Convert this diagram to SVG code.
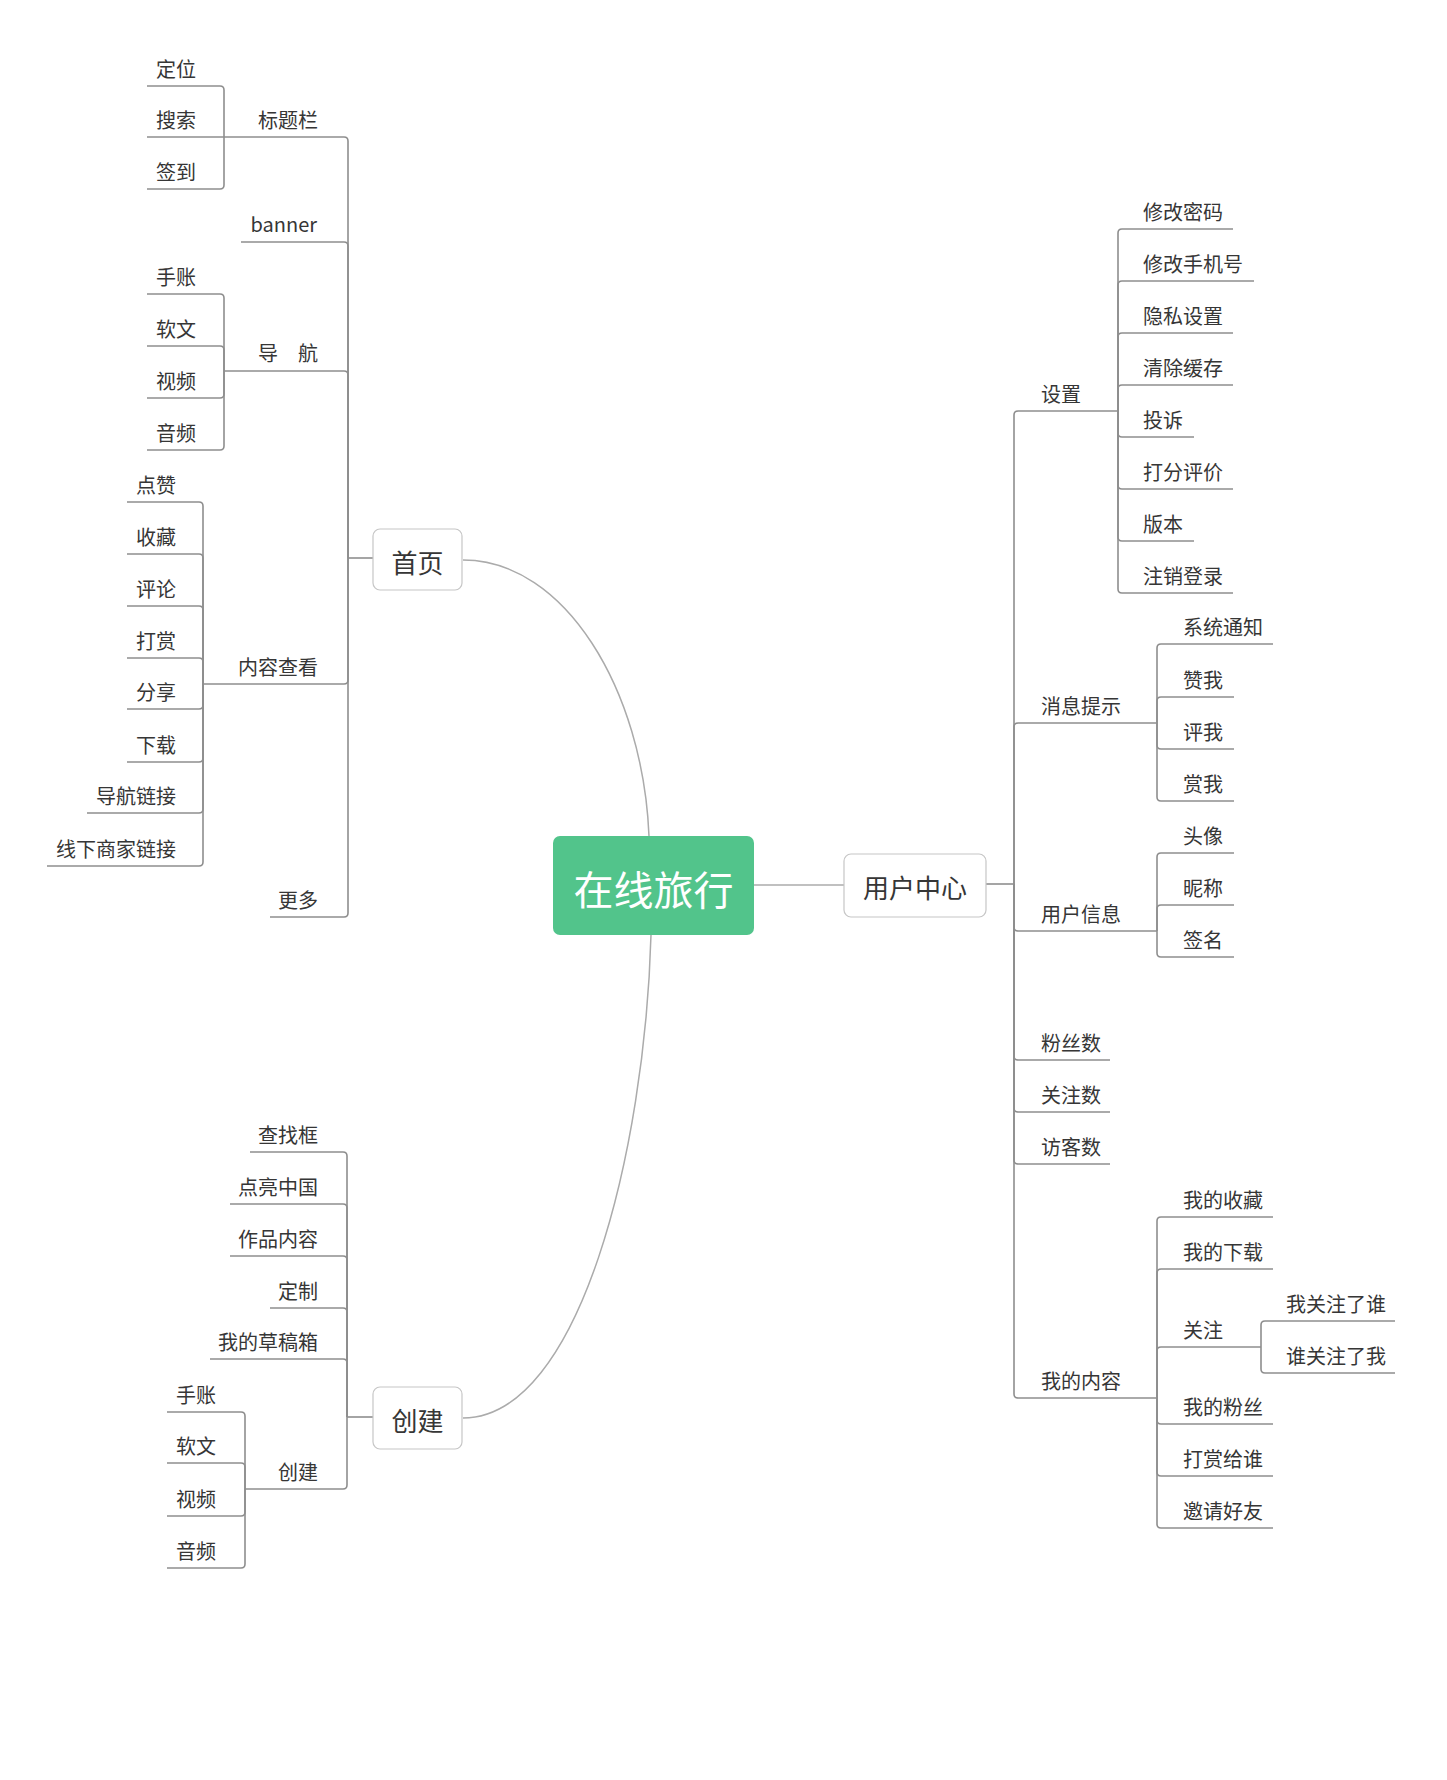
<svg xmlns="http://www.w3.org/2000/svg" width="1447" height="1780" viewBox="0 0 1447 1780">
<style>
text{font-family:"Noto Sans CJK SC","Noto Sans",sans-serif;fill:#363636;}
.t{font-size:20px;}
.l{text-anchor:end;}
.m{font-size:26px;text-anchor:middle;}
.root{font-size:40px;fill:#fff;text-anchor:middle;}
.b{fill:none;stroke:#8e8e8e;stroke-width:1.6;}
.c{fill:none;stroke:#ababab;stroke-width:1.5;}
.box{fill:#fff;stroke:#c6c6c6;stroke-width:1.2;}
</style>
<rect width="1447" height="1780" fill="#fff"/>
<g id="connectors">
<path class="c" d="M463 560 C565 560 643 690 649 836"/>
<path class="c" d="M651 935 C645 1150 580 1418 463 1418"/>
<path class="c" d="M754 885 H844"/>
<path class="b" d="M348 558 H373"/>
<path class="b" d="M348 558 V141 Q348 137 344 137 H224"/>
<path class="b" d="M348 558 V246 Q348 242 344 242 H241"/>
<path class="b" d="M348 558 V375 Q348 371 344 371 H224"/>
<path class="b" d="M348 558 V680 Q348 684 344 684 H203"/>
<path class="b" d="M348 558 V913 Q348 917 344 917 H270"/>
<path class="b" d="M224 137 V90 Q224 86 220 86 H147"/>
<path class="b" d="M224 137 H147"/>
<path class="b" d="M224 137 V185 Q224 189 220 189 H147"/>
<path class="b" d="M224 371 V298 Q224 294 220 294 H147"/>
<path class="b" d="M224 371 V350 Q224 346 220 346 H147"/>
<path class="b" d="M224 371 V394 Q224 398 220 398 H147"/>
<path class="b" d="M224 371 V446 Q224 450 220 450 H147"/>
<path class="b" d="M203 684 V506 Q203 502 199 502 H127"/>
<path class="b" d="M203 684 V558 Q203 554 199 554 H127"/>
<path class="b" d="M203 684 V610 Q203 606 199 606 H127"/>
<path class="b" d="M203 684 V662 Q203 658 199 658 H127"/>
<path class="b" d="M203 684 V705 Q203 709 199 709 H127"/>
<path class="b" d="M203 684 V758 Q203 762 199 762 H127"/>
<path class="b" d="M203 684 V809 Q203 813 199 813 H87"/>
<path class="b" d="M203 684 V862 Q203 866 199 866 H47"/>
<path class="b" d="M347 1417 H373"/>
<path class="b" d="M347 1417 V1156 Q347 1152 343 1152 H250"/>
<path class="b" d="M347 1417 V1208 Q347 1204 343 1204 H230"/>
<path class="b" d="M347 1417 V1260 Q347 1256 343 1256 H230"/>
<path class="b" d="M347 1417 V1312 Q347 1308 343 1308 H270"/>
<path class="b" d="M347 1417 V1363 Q347 1359 343 1359 H210"/>
<path class="b" d="M347 1417 V1485 Q347 1489 343 1489 H245"/>
<path class="b" d="M245 1489 V1416 Q245 1412 241 1412 H167"/>
<path class="b" d="M245 1489 V1467 Q245 1463 241 1463 H167"/>
<path class="b" d="M245 1489 V1512 Q245 1516 241 1516 H167"/>
<path class="b" d="M245 1489 V1564 Q245 1568 241 1568 H167"/>
<path class="b" d="M986 884 H1014"/>
<path class="b" d="M1014 884 V415 Q1014 411 1018 411 H1118"/>
<path class="b" d="M1014 884 V727 Q1014 723 1018 723 H1157"/>
<path class="b" d="M1014 884 V927 Q1014 931 1018 931 H1157"/>
<path class="b" d="M1014 884 V1056 Q1014 1060 1018 1060 H1110"/>
<path class="b" d="M1014 884 V1108 Q1014 1112 1018 1112 H1110"/>
<path class="b" d="M1014 884 V1160 Q1014 1164 1018 1164 H1110"/>
<path class="b" d="M1014 884 V1394 Q1014 1398 1018 1398 H1157"/>
<path class="b" d="M1118 411 V233 Q1118 229 1122 229 H1233"/>
<path class="b" d="M1118 411 V285 Q1118 281 1122 281 H1254"/>
<path class="b" d="M1118 411 V337 Q1118 333 1122 333 H1233"/>
<path class="b" d="M1118 411 V389 Q1118 385 1122 385 H1233"/>
<path class="b" d="M1118 411 V433 Q1118 437 1122 437 H1194"/>
<path class="b" d="M1118 411 V485 Q1118 489 1122 489 H1233"/>
<path class="b" d="M1118 411 V537 Q1118 541 1122 541 H1194"/>
<path class="b" d="M1118 411 V589 Q1118 593 1122 593 H1233"/>
<path class="b" d="M1157 723 V648 Q1157 644 1161 644 H1273"/>
<path class="b" d="M1157 723 V701 Q1157 697 1161 697 H1234"/>
<path class="b" d="M1157 723 V745 Q1157 749 1161 749 H1234"/>
<path class="b" d="M1157 723 V797 Q1157 801 1161 801 H1234"/>
<path class="b" d="M1157 931 V857 Q1157 853 1161 853 H1234"/>
<path class="b" d="M1157 931 V909 Q1157 905 1161 905 H1234"/>
<path class="b" d="M1157 931 V953 Q1157 957 1161 957 H1234"/>
<path class="b" d="M1157 1398 V1221 Q1157 1217 1161 1217 H1273"/>
<path class="b" d="M1157 1398 V1273 Q1157 1269 1161 1269 H1273"/>
<path class="b" d="M1157 1398 V1351 Q1157 1347 1161 1347 H1261"/>
<path class="b" d="M1157 1398 V1420 Q1157 1424 1161 1424 H1273"/>
<path class="b" d="M1157 1398 V1472 Q1157 1476 1161 1476 H1273"/>
<path class="b" d="M1157 1398 V1524 Q1157 1528 1161 1528 H1273"/>
<path class="b" d="M1261 1347 V1325 Q1261 1321 1265 1321 H1395"/>
<path class="b" d="M1261 1347 V1369 Q1261 1373 1265 1373 H1395"/>
</g>
<g id="root"><rect x="553" y="836" width="201" height="99" rx="7" fill="#52c48b"/><text class="root" x="653.5" y="905">在线旅行</text></g>
<g id="n-shouye"><rect class="box" x="373" y="529" width="89" height="61" rx="7"/><text class="m" x="417.5" y="573">首页</text></g>
<g id="n-chuangjian"><rect class="box" x="373" y="1387" width="89" height="62" rx="7"/><text class="m" x="417.5" y="1431">创建</text></g>
<g id="n-yonghu"><rect class="box" x="844" y="854" width="142" height="63" rx="7"/><text class="m" x="915" y="898">用户中心</text></g>
<g id="n-left-texts" transform="translate(0,1)">
<g id="n-biaoti"><text class="t l" x="318" y="127">标题栏</text></g>
<g id="n-dingwei"><text class="t l" x="196" y="76">定位</text></g>
<g id="n-sousuo"><text class="t l" x="196" y="127">搜索</text></g>
<g id="n-qiandao"><text class="t l" x="196" y="179">签到</text></g>
<g id="n-banner"><text class="t l" x="317" y="231">banner</text></g>
<g id="n-daohang"><text class="t l" x="318" y="360">导　航</text></g>
<g id="n-shouzhang"><text class="t l" x="196" y="284">手账</text></g>
<g id="n-ruanwen"><text class="t l" x="196" y="336">软文</text></g>
<g id="n-shipin"><text class="t l" x="196" y="388">视频</text></g>
<g id="n-yinpin"><text class="t l" x="196" y="440">音频</text></g>
<g id="n-neirong"><text class="t l" x="318" y="674">内容查看</text></g>
<g id="n-dianzan"><text class="t l" x="176" y="492">点赞</text></g>
<g id="n-shoucang"><text class="t l" x="176" y="544">收藏</text></g>
<g id="n-pinglun"><text class="t l" x="176" y="596">评论</text></g>
<g id="n-dashang"><text class="t l" x="176" y="648">打赏</text></g>
<g id="n-fenxiang"><text class="t l" x="176" y="699">分享</text></g>
<g id="n-xiazai"><text class="t l" x="176" y="752">下载</text></g>
<g id="n-dhlj"><text class="t l" x="176" y="803">导航链接</text></g>
<g id="n-xxsj"><text class="t l" x="176" y="856">线下商家链接</text></g>
<g id="n-gengduo"><text class="t l" x="318" y="907">更多</text></g>
<g id="n-chazhao"><text class="t l" x="318" y="1142">查找框</text></g>
<g id="n-dianliang"><text class="t l" x="318" y="1194">点亮中国</text></g>
<g id="n-zuopin"><text class="t l" x="318" y="1246">作品内容</text></g>
<g id="n-dingzhi"><text class="t l" x="318" y="1298">定制</text></g>
<g id="n-caogao"><text class="t l" x="318" y="1349">我的草稿箱</text></g>
<g id="n-chuangjian2"><text class="t l" x="318" y="1479">创建</text></g>
<g id="n-shouzhang2"><text class="t l" x="216" y="1402">手账</text></g>
<g id="n-ruanwen2"><text class="t l" x="216" y="1453">软文</text></g>
<g id="n-shipin2"><text class="t l" x="216" y="1506">视频</text></g>
<g id="n-yinpin2"><text class="t l" x="216" y="1558">音频</text></g>
</g>
<g id="n-right-texts" transform="translate(0,1)">
<g id="n-shezhi"><text class="t" x="1041" y="401">设置</text></g>
<g id="n-xgmm"><text class="t" x="1143" y="219">修改密码</text></g>
<g id="n-xgsjh"><text class="t" x="1143" y="271">修改手机号</text></g>
<g id="n-yssz"><text class="t" x="1143" y="323">隐私设置</text></g>
<g id="n-qchc"><text class="t" x="1143" y="375">清除缓存</text></g>
<g id="n-tousu"><text class="t" x="1143" y="427">投诉</text></g>
<g id="n-dfpj"><text class="t" x="1143" y="479">打分评价</text></g>
<g id="n-banben"><text class="t" x="1143" y="531">版本</text></g>
<g id="n-zxdl"><text class="t" x="1143" y="583">注销登录</text></g>
<g id="n-xxts"><text class="t" x="1041" y="713">消息提示</text></g>
<g id="n-xttz"><text class="t" x="1183" y="634">系统通知</text></g>
<g id="n-zanwo"><text class="t" x="1183" y="687">赞我</text></g>
<g id="n-pingwo"><text class="t" x="1183" y="739">评我</text></g>
<g id="n-shangwo"><text class="t" x="1183" y="791">赏我</text></g>
<g id="n-yhxx"><text class="t" x="1041" y="921">用户信息</text></g>
<g id="n-touxiang"><text class="t" x="1183" y="843">头像</text></g>
<g id="n-nicheng"><text class="t" x="1183" y="895">昵称</text></g>
<g id="n-qianming"><text class="t" x="1183" y="947">签名</text></g>
<g id="n-fss"><text class="t" x="1041" y="1050">粉丝数</text></g>
<g id="n-gzs"><text class="t" x="1041" y="1102">关注数</text></g>
<g id="n-fks"><text class="t" x="1041" y="1154">访客数</text></g>
<g id="n-wdnr"><text class="t" x="1041" y="1388">我的内容</text></g>
<g id="n-wdsc"><text class="t" x="1183" y="1207">我的收藏</text></g>
<g id="n-wdxz"><text class="t" x="1183" y="1259">我的下载</text></g>
<g id="n-guanzhu"><text class="t" x="1183" y="1337">关注</text></g>
<g id="n-wgzls"><text class="t" x="1286" y="1311">我关注了谁</text></g>
<g id="n-sgzlw"><text class="t" x="1286" y="1363">谁关注了我</text></g>
<g id="n-wdfs"><text class="t" x="1183" y="1414">我的粉丝</text></g>
<g id="n-dsgs"><text class="t" x="1183" y="1466">打赏给谁</text></g>
<g id="n-yqhy"><text class="t" x="1183" y="1518">邀请好友</text></g>
</g>
</svg>
